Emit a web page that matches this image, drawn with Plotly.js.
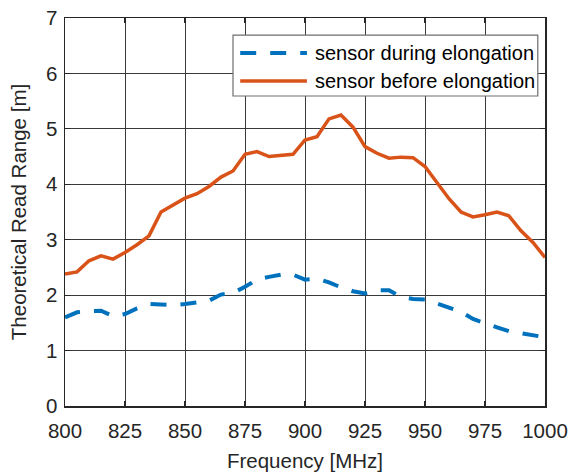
<!DOCTYPE html>
<html>
<head>
<meta charset="utf-8">
<script src="https://cdn.plot.ly/plotly-3.0.1.min.js"></script>
<style>html,body{margin:0;padding:0;background:#fff;}#chart{width:568px;height:475px;}</style>
</head>
<body>
<div id="chart"></div>
<script>
const freq = [800,805,810,815,820,825,830,835,840,845,850,855,860,865,870,875,880,885,890,895,900,905,910,915,920,925,930,935,940,945,950,955,960,965,970,975,980,985,990,995,1000];
const during = [1.60,1.69,1.71,1.72,1.62,1.66,1.76,1.84,1.83,1.82,1.84,1.87,1.90,2.01,2.04,2.15,2.28,2.33,2.37,2.37,2.28,2.30,2.23,2.14,2.07,2.03,2.09,2.09,1.97,1.93,1.92,1.85,1.78,1.70,1.57,1.49,1.42,1.35,1.31,1.28,1.24];
const before = [2.38,2.42,2.62,2.71,2.65,2.77,2.91,3.07,3.50,3.63,3.75,3.83,3.96,4.13,4.24,4.54,4.59,4.50,4.52,4.54,4.80,4.86,5.18,5.25,5.03,4.68,4.56,4.47,4.49,4.48,4.32,4.04,3.74,3.50,3.41,3.45,3.50,3.43,3.16,2.95,2.68];
const xTicks = [800,825,850,875,900,925,950,975,1000];
const yTicks = [0,1,2,3,4,5,6,7];
const seriesNames = ['sensor during elongation','sensor before elongation'];
const seriesColors = ['#0072BD','#D95319'];

const font = 'Liberation Sans, Arial, sans-serif';
const dashes = ['16px,14px','solid'];
const widths = [4, 3.5];
const traces = [
  {x: freq, y: during, name: seriesNames[0], mode: 'lines',
   line: {color: seriesColors[0], width: widths[0], dash: dashes[0]}},
  {x: freq, y: before, name: seriesNames[1], mode: 'lines',
   line: {color: seriesColors[1], width: widths[1]}}
];
const axBase = {
  showline: true, linecolor: '#262626', linewidth: 1.5, mirror: 'ticks',
  ticks: 'inside', ticklen: 5, tickwidth: 1.2, tickcolor: '#262626',
  showgrid: true, gridcolor: '#3a3a3a', gridwidth: 1, zeroline: false,
  automargin: false, ticklabeloverflow: 'allow',
  tickfont: {family: font, size: 20.5, color: '#262626'}
};

// manual legend (box, sample lines, labels) in paper coordinates
const lg = {x0: 0.35, x1: 0.985, y0: 0.799, y1: 0.956, lx0: 0.365, lx1: 0.504, tx: 0.517, rows: [0.91, 0.8376]};
const shapes = [
  {type: 'rect', xref: 'paper', yref: 'paper', x0: lg.x0, x1: lg.x1, y0: lg.y0, y1: lg.y1,
   fillcolor: '#fff', line: {color: '#6e6e6e', width: 1.2}, layer: 'above'}
];
const annotations = [];
seriesNames.forEach((n, i) => {
  shapes.push({type: 'line', xref: 'paper', yref: 'paper', x0: lg.lx0, x1: lg.lx1, y0: lg.rows[i], y1: lg.rows[i],
    line: {color: seriesColors[i], width: widths[i], dash: dashes[i]}, layer: 'above'});
  annotations.push({xref: 'paper', yref: 'paper', x: lg.tx, y: lg.rows[i], xanchor: 'left', yanchor: 'middle',
    text: n, showarrow: false, font: {family: font, size: 20, color: '#000'}});
});

const layout = {
  width: 568, height: 475,
  margin: {l: 65, r: 23, t: 18, b: 69},
  paper_bgcolor: '#fff', plot_bgcolor: '#fff',
  showlegend: false,
  shapes: shapes, annotations: annotations,
  xaxis: Object.assign({}, axBase, {range: [800, 1000], tickvals: xTicks, ticktext: xTicks.map(String),
    ticklabelstandoff: 6,
    title: {text: 'Frequency [MHz]', font: {family: font, size: 20.5, color: '#262626'}, standoff: 12}}),
  yaxis: Object.assign({}, axBase, {range: [0, 7], tickvals: yTicks, ticktext: yTicks.map(String),
    ticklabelstandoff: 2,
    title: {text: 'Theoretical Read Range [m]', font: {family: font, size: 20.5, color: '#262626'}, standoff: 14}})
};
Plotly.newPlot('chart', traces, layout, {staticPlot: true, displayModeBar: false});
</script>
</body>
</html>
